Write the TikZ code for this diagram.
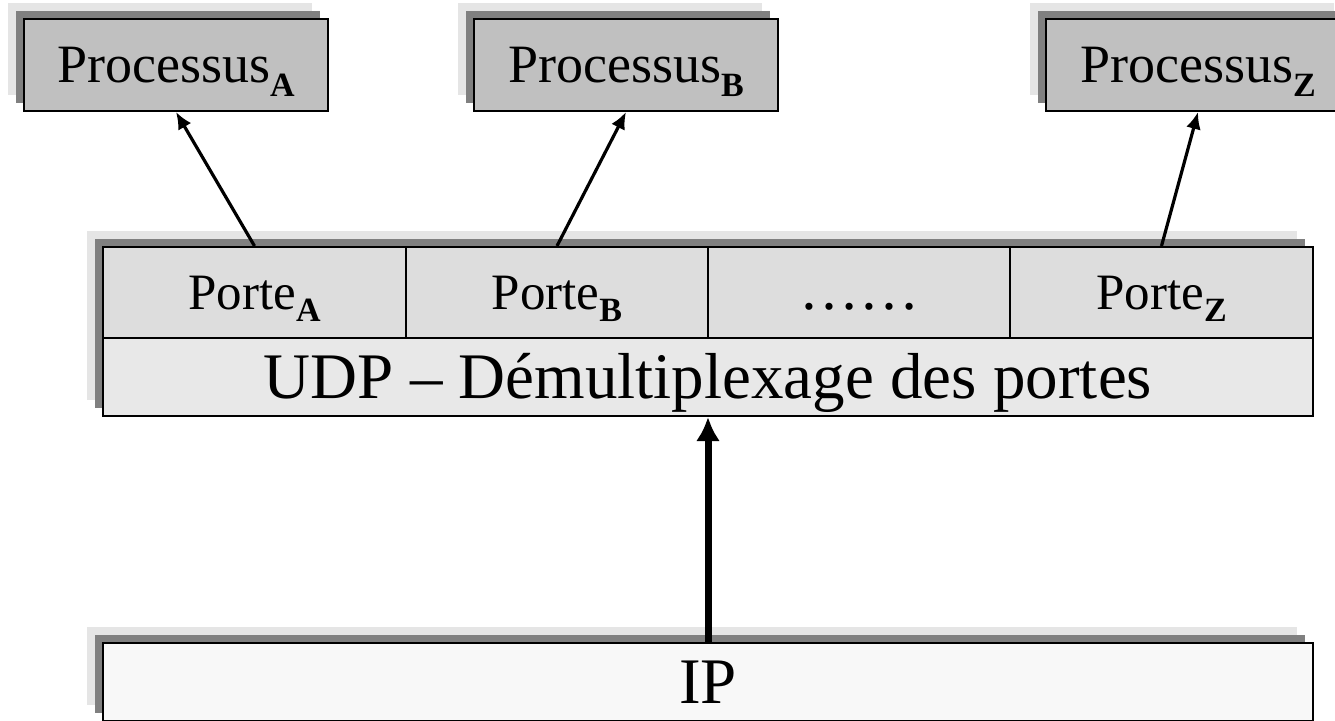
\documentclass[tikz,border=0pt]{standalone}
\usepackage{fontspec}
\setmainfont{Liberation Serif}
\usetikzlibrary{shadows,arrows.meta}
\definecolor{shlight}{HTML}{E5E5E5}
\definecolor{shdark}{HTML}{808080}
\definecolor{procfill}{HTML}{C0C0C0}
\definecolor{portfill}{HTML}{DDDDDD}
\definecolor{udpfill}{HTML}{E8E8E8}
\definecolor{ipfill}{HTML}{F8F8F8}
\newcommand{\subidx}[2]{\raisebox{-#1}{\fontsize{34}{34}\selectfont\bfseries #2}}
\begin{document}
\begin{tikzpicture}[x=1pt,y=-1pt,
  shad/.style={general shadow={fill=shlight, shadow xshift=-16pt, shadow yshift=16pt},
               general shadow={fill=shdark, shadow xshift=-8pt, shadow yshift=8pt}},
  box/.style={draw=black, line width=2pt, rectangle, inner sep=0pt, anchor=north west},
  procbox/.style={box, shad, fill=procfill, minimum width=304pt, minimum height=92pt,
                  font=\fontsize{54}{60}\selectfont, text height=35pt, text depth=0pt},
  cell/.style={box, fill=portfill, minimum height=91pt,
               font=\fontsize{51}{60}\selectfont, text height=34pt, text depth=0pt},
  thinarrow/.style={-{Latex[length=17pt,width=15pt]}, line width=3.2pt},
  thickarrow/.style={-{Latex[length=24pt,width=24pt]}, line width=7pt}]
\useasboundingbox (0,0) rectangle (1335,720);
\clip (0,0) rectangle (1335,720);
% processes
\node[procbox] (pA) at (23,18) {Processus\subidx{14pt}{A}};
\node[procbox] (pB) at (473,18) {Processus\subidx{14pt}{B}};
\node[procbox] (pZ) at (1045,18) {Processus\subidx{14pt}{Z}};
% UDP block
\node[box, shad, fill=udpfill, minimum width=1210pt, minimum height=169pt] (blk) at (102,246) {};
\node[cell, minimum width=303pt] (ptA) at (102,246) {Porte\subidx{12pt}{A}};
\node[cell, minimum width=302pt] (ptB) at (405,246) {Porte\subidx{12pt}{B}};
\node[cell, minimum width=302pt] (ptD) at (707,246) {\fontsize{60}{60}\selectfont ……};
\node[cell, minimum width=303pt] (ptZ) at (1009,246) {Porte\subidx{12pt}{Z}};
\node[box, fill=udpfill, minimum width=1210pt, minimum height=78pt,
      font=\fontsize{65}{70}\selectfont, text height=43pt, text depth=0pt] (udp) at (102,337)
      {UDP – Démultiplexage des portes};
% IP
\node[box, shad, fill=ipfill, minimum width=1210pt, minimum height=78pt,
      font=\fontsize{65}{70}\selectfont, text height=43pt, text depth=0pt] (ip) at (102,642) {IP};
% arrows
\draw[thinarrow] (ptA.north) -- (pA.south);
\draw[thinarrow] (ptB.north) -- (pB.south);
\draw[thinarrow] (ptZ.north) -- (pZ.south);
\draw[thickarrow] (ip.north) -- (udp.south);
\end{tikzpicture}
\end{document}
